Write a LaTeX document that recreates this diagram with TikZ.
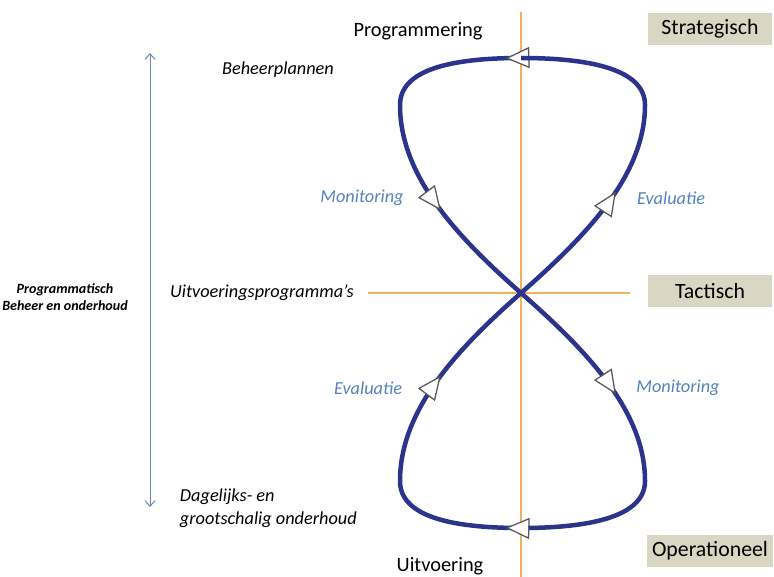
\documentclass[tikz,border=0pt]{standalone}
\usepackage{fontspec}
\setmainfont{Carlito}
\usetikzlibrary{positioning, arrows.meta, decorations.markings}
\definecolor{loopblue}{RGB}{42,52,140}
\definecolor{axisorange}{RGB}{238,178,98}
\definecolor{labelblue}{RGB}{84,130,190}
\definecolor{levelfill}{RGB}{218,214,196}
\definecolor{spangray}{RGB}{110,135,170}
\newcommand{\flowtip}{\arrow{Triangle[length=17pt,width=15pt,fill=white,color=gray!70!black,line width=0.9pt]}}
\tikzset{
level/.style={
  fill=levelfill, 
  minimum height=0.8cm, 
  minimum width=3.1cm,
  font=\fontsize{15.5}{18}\selectfont
  }, 
phase/.style={font=\fontsize{14.5}{17}\selectfont},
flowlabel/.style={text=labelblue, font=\fontsize{13}{15}\selectfont\itshape},
product/.style={font=\fontsize{13}{16.5}\selectfont\itshape, align=left},
axis/.style={draw=axisorange, line width=1.5pt},
loop/.style={draw=loopblue, line width=3.2pt},
tipat/.style={postaction={decorate, decoration={markings, mark=at position #1 with {\flowtip}}}},
span/.style={{Straight Barb[length=4pt,width=7pt]}-{Straight Barb[length=4pt,width=7pt]}, draw=spangray, line width=0.7pt}
}

\begin{document}
\begin{tikzpicture}[x=0.025cm, y=-0.025cm]
\useasboundingbox (0,0) rectangle (774,577);
% assen
\coordinate (axtop) at (521,12);
\coordinate (axbot) at (521,577);
\coordinate (axleft) at (368,293);
\coordinate (axright) at (630,293);
\draw[axis] (axtop) -- (axbot);
\draw[axis] (axleft) -- (axright);
% de acht
\coordinate (top) at (521,58);
\coordinate (mid) at (521,293);
\coordinate (bot) at (521,528);
\draw[loop, tipat=11pt, tipat=0.69] (top) .. controls (450,58) and (400,70) .. (400,105)
    .. controls (400,175) and (455,235) .. (mid);
\draw[loop, tipat=0.37] (mid) .. controls (587,351) and (645,411) .. (645,481)
    .. controls (645,516) and (592,528) .. (bot);
\draw[loop, tipat=11pt, tipat=0.69] (bot) .. controls (450,528) and (400,516) .. (400,481)
    .. controls (400,411) and (455,351) .. (mid);
\draw[loop, tipat=0.37] (mid) .. controls (587,235) and (645,175) .. (645,105)
    .. controls (645,70) and (592,58) .. (top);
% niveaus
\node[level] (strat) at (710,29) {Strategisch};
\node[level] (tact) at (710,291) {Tactisch};
\node[level] (oper) at (710,551) {Operationeel};
\node[phase] (prog) at (418,31) {Programmering};
\node[phase] (uitv) at (440,566) {Uitvoering};
% producten
\node[product] (plan) at (278,70) {Beheerplannen};
\node[product] (uprog) at (262,293) {Uitvoeringsprogramma’s};
\node[product, anchor=west] (dagel) at (175,508) {Dagelijks- en\\grootschalig onderhoud};
% monitoring en evaluatie
\node[flowlabel] (monl) at (362,198) {Monitoring};
\node[flowlabel] (evar) at (671,198) {Evaluatie};
\node[flowlabel] (eval) at (368,388) {Evaluatie};
\node[flowlabel] (monr) at (678,388) {Monitoring};
% zijbalk
\coordinate (spantop) at (150,53);
\coordinate (spanbot) at (150,507);
\draw[span] (spanbot) -- (spantop);
\node[font=\fontsize{10}{12}\selectfont\bfseries\itshape, align=center] (progbeh) at (65,297) {Programmatisch\\Beheer en onderhoud};
\end{tikzpicture}
\end{document}
